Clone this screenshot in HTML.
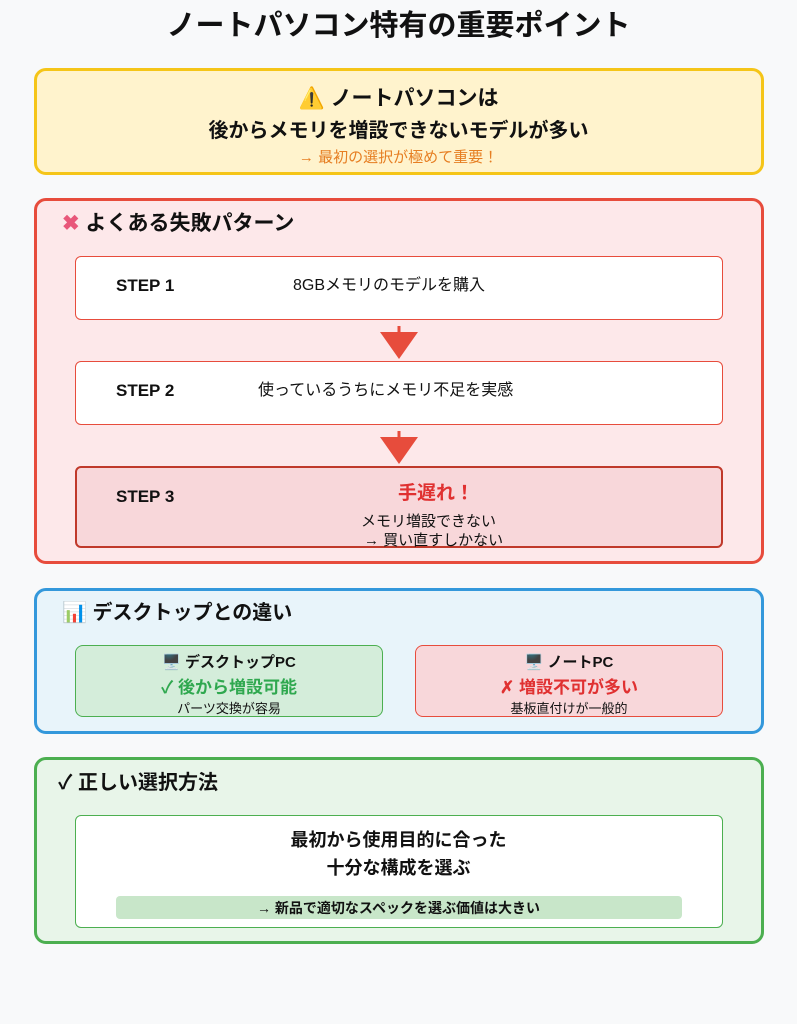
<!DOCTYPE html>
<html><head><meta charset="utf-8"><style>
body{margin:0;width:797px;height:1024px;background:#f8f9fa;font-family:"Liberation Sans","Noto Sans CJK JP",sans-serif;position:relative;overflow:hidden;color:#111}
.a{position:absolute;box-sizing:border-box}
.c{text-align:center;left:0;right:0}
.t{position:absolute;white-space:nowrap;line-height:1}
.b{font-weight:bold}
</style></head><body>
<div class="t b c" style="top:12px;font-size:29px">ノートパソコン特有の重要ポイント</div>

<div class="a" style="left:34px;top:68px;width:730px;height:107px;background:#fff3cd;border:3px solid #f5c518;border-radius:12px"></div>
<div class="t b c" style="top:88px;font-size:21px">⚠️ ノートパソコンは</div>
<div class="t b c" style="top:121px;font-size:20px">後からメモリを増設できないモデルが多い</div>
<div class="t c" style="top:150px;font-size:15px;color:#e67e22">→ 最初の選択が極めて重要！</div>

<div class="a" style="left:34px;top:198px;width:730px;height:366px;background:#fde8ea;border:3px solid #e74c3c;border-radius:12px"></div>
<div class="t b" style="left:62px;top:213px;font-size:21px"><span style="color:#e8577a">✖</span> よくある失敗パターン</div>

<div class="a" style="left:75px;top:256px;width:648px;height:64px;background:#fff;border:1.5px solid #e74c3c;border-radius:6px"></div>
<div class="t b" style="left:116px;top:277px;font-size:17px">STEP 1</div>
<div class="t" style="left:293px;top:278px;font-size:16px">8GBメモリのモデルを購入</div>
<svg class="a" style="left:378px;top:326px" width="42" height="34"><line x1="21" y1="0" x2="21" y2="8" stroke="#e74c3c" stroke-width="3"/><polygon points="2,6 40,6 21,33" fill="#e74c3c"/></svg>

<div class="a" style="left:75px;top:361px;width:648px;height:64px;background:#fff;border:1.5px solid #e74c3c;border-radius:6px"></div>
<div class="t b" style="left:116px;top:382px;font-size:17px">STEP 2</div>
<div class="t" style="left:258px;top:383px;font-size:16px">使っているうちにメモリ不足を実感</div>
<svg class="a" style="left:378px;top:431px" width="42" height="34"><line x1="21" y1="0" x2="21" y2="8" stroke="#e74c3c" stroke-width="3"/><polygon points="2,6 40,6 21,33" fill="#e74c3c"/></svg>

<div class="a" style="left:75px;top:466px;width:648px;height:82px;background:#f8d7da;border:2px solid #c0392b;border-radius:6px"></div>
<div class="t b" style="left:116px;top:488px;font-size:17px">STEP 3</div>
<div class="t b" style="left:398px;top:484px;font-size:19px;color:#e03131">手遅れ！</div>
<div class="t" style="left:361px;top:514px;font-size:15px">メモリ増設できない</div>
<div class="t" style="left:364px;top:533px;font-size:15px">→ 買い直すしかない</div>

<div class="a" style="left:34px;top:588px;width:730px;height:146px;background:#e8f4fa;border:3px solid #3498db;border-radius:12px"></div>
<div class="t b" style="left:62px;top:603px;font-size:20px">📊 デスクトップとの違い</div>
<div class="a" style="left:75px;top:645px;width:308px;height:72px;background:#d4edda;border:1.5px solid #4caf50;border-radius:8px"></div>
<div class="t b" style="left:75px;width:308px;text-align:center;top:655px;font-size:15px">🖥️ デスクトップPC</div>
<div class="t b" style="left:75px;width:308px;text-align:center;top:679px;font-size:17px;color:#2fa84f">✓ 後から増設可能</div>
<div class="t" style="left:75px;width:308px;text-align:center;top:702px;font-size:13px">パーツ交換が容易</div>
<div class="a" style="left:415px;top:645px;width:308px;height:72px;background:#f8d7da;border:1.5px solid #e74c3c;border-radius:8px"></div>
<div class="t b" style="left:415px;width:308px;text-align:center;top:655px;font-size:15px">🖥️ ノートPC</div>
<div class="t b" style="left:415px;width:308px;text-align:center;top:679px;font-size:17px;color:#e03131">✗ 増設不可が多い</div>
<div class="t" style="left:415px;width:308px;text-align:center;top:702px;font-size:13px">基板直付けが一般的</div>

<div class="a" style="left:34px;top:757px;width:730px;height:187px;background:#e8f5e9;border:3px solid #4caf50;border-radius:12px"></div>
<div class="t b" style="left:58px;top:773px;font-size:20px">✓ 正しい選択方法</div>
<div class="a" style="left:75px;top:815px;width:648px;height:113px;background:#fff;border:1.5px solid #4caf50;border-radius:6px"></div>
<div class="t b c" style="top:831px;font-size:18px">最初から使用目的に合った</div>
<div class="t b c" style="top:859px;font-size:18px">十分な構成を選ぶ</div>
<div class="a" style="left:116px;top:896px;width:566px;height:23px;background:#c8e6c9;border-radius:4px"></div>
<div class="t b c" style="top:901px;font-size:14px">→ 新品で適切なスペックを選ぶ価値は大きい</div>
</body></html>
